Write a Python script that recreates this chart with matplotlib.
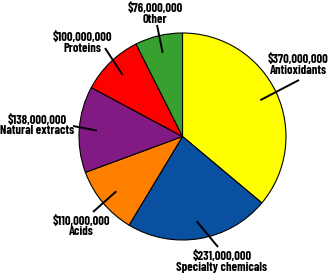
import matplotlib
matplotlib.use("Agg")
import matplotlib.pyplot as plt
from matplotlib import font_manager as fm
import numpy as np

categories = ["Antioxidants", "Specialty chemicals", "Acids",
              "Natural extracts", "Proteins", "Other"]
values = [370_000_000, 231_000_000, 110_000_000, 138_000_000, 100_000_000, 76_000_000]
colors = ["#ffff00", "#0a50a0", "#ff8000", "#821a84", "#ff0000", "#38a02e"]

W, H = 329, 276
CENTER = (182.5, H - 136.5)
RADIUS = 103.5

# label block centres and leader-line outer ends, in pixel coords (y down)
label_pos = [(298.5, 64.5), (222, 261.5), (81, 226), (37, 125), (82, 42.5), (155, 13.5)]
leader_end = [(299, 80), (218, 247), (93, 212), (73, 126), (105, 48), (157, 25)]

# condensed bold face like the original; take the first one installed
wanted = ["Barlow Condensed", "Roboto Condensed", "Archivo Narrow", "PT Sans Narrow",
          "Liberation Sans Narrow", "Fira Sans Condensed", "IBM Plex Sans Condensed"]
installed = {f.name for f in fm.fontManager.ttflist}
found = [n for n in wanted if n in installed]
FONT = found[:1] + ["DejaVu Sans"]
STRETCH = "normal" if found else "condensed"

fig = plt.figure(figsize=(W / 100, H / 100), dpi=100)
ax = fig.add_axes([0, 0, 1, 1])

wedges, _ = ax.pie(values, colors=colors, startangle=90, counterclock=False,
                   center=CENTER, radius=RADIUS,
                   wedgeprops=dict(edgecolor="black", linewidth=0.8))

for w, name, val, (tx, ty), (lx, ly) in zip(wedges, categories, values, label_pos, leader_end):
    mid = np.deg2rad((w.theta1 + w.theta2) / 2)
    ix = CENTER[0] + 0.83 * RADIUS * np.cos(mid)
    iy = CENTER[1] + 0.83 * RADIUS * np.sin(mid)
    ax.plot([ix, lx], [iy, H - ly], color="black", linewidth=1.4, solid_capstyle="butt")
    ax.text(tx, H - ty, f"${val:,}\n{name}", ha="center", va="center",
            multialignment="center", family=FONT, fontweight="bold",
            fontstretch=STRETCH, fontsize=9.0, linespacing=0.95)

ax.set_xlim(0, W)
ax.set_ylim(0, H)
ax.set_aspect("equal")
ax.axis("off")

fig.savefig("out.png", dpi=100)
